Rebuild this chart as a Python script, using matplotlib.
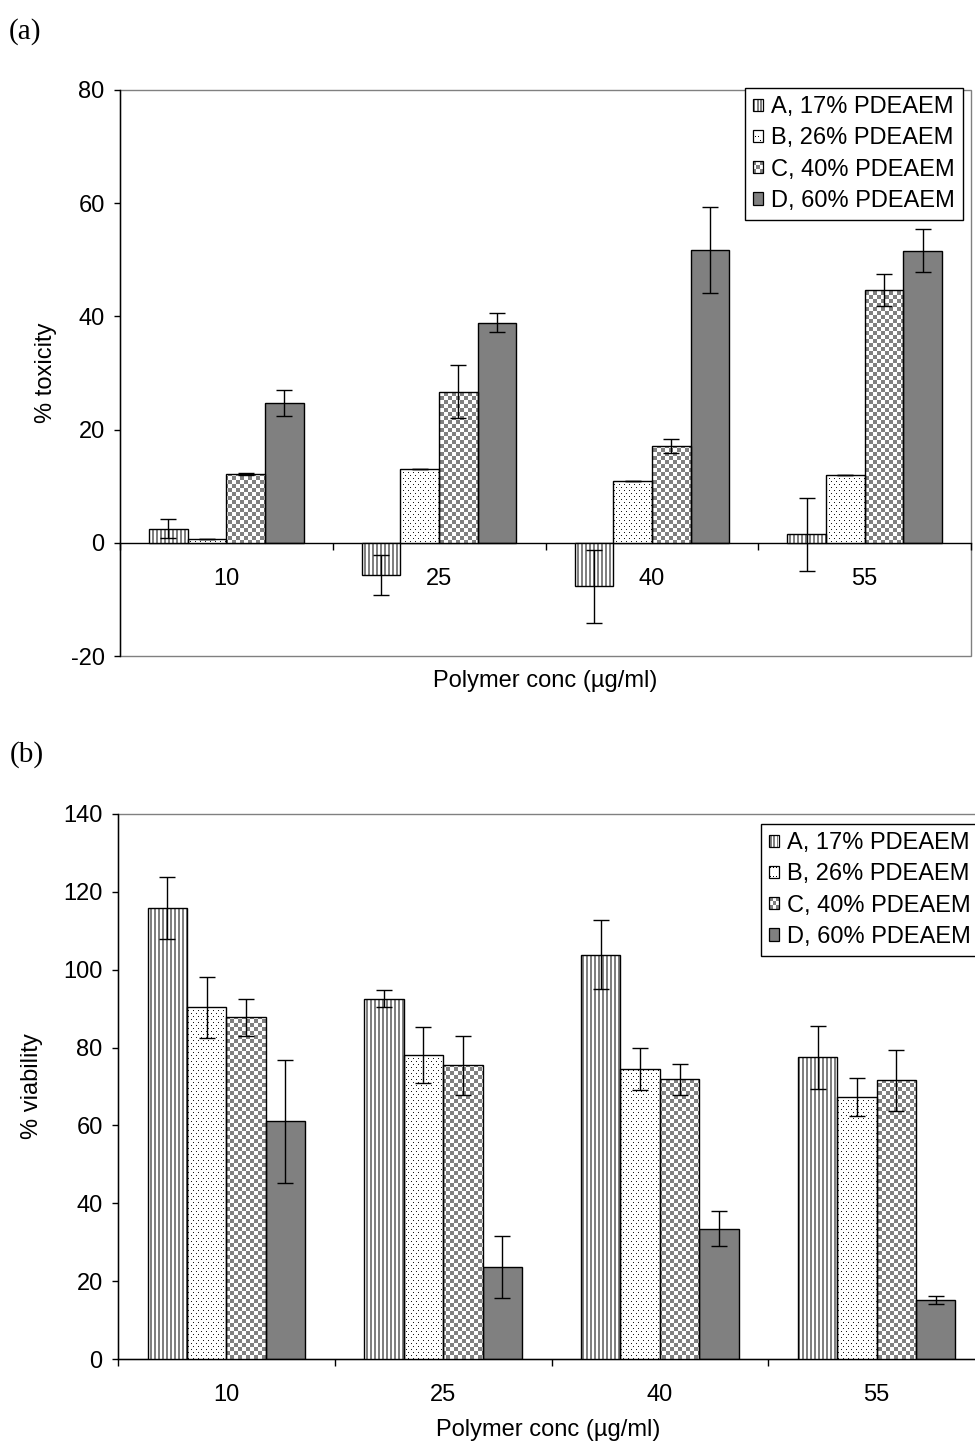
import numpy as np
import matplotlib
matplotlib.use('Agg')
import matplotlib.pyplot as plt
from matplotlib.patches import Rectangle
from matplotlib.path import Path
from matplotlib.colors import to_rgb
from matplotlib.legend_handler import HandlerBase

plt.rcParams['font.family'] = ['Liberation Sans', 'DejaVu Sans']
plt.rcParams['axes.unicode_minus'] = False

categories = ['10', '25', '40', '55']
series = ['A, 17% PDEAEM', 'B, 26% PDEAEM', 'C, 40% PDEAEM', 'D, 60% PDEAEM']

# Panel (a): % toxicity
tox_A = [2.5, -5.7, -7.7, 1.5]
tox_B = [0.6, 13.0, 11.0, 12.0]
tox_C = [12.1, 26.7, 17.1, 44.7]
tox_D = [24.7, 38.9, 51.7, 51.6]
tox_A_err = [1.7, 3.5, 6.5, 6.5]
tox_B_err = [0.0, 0.0, 0.0, 0.0]
tox_C_err = [0.2, 4.7, 1.2, 2.8]
tox_D_err = [2.3, 1.7, 7.6, 3.8]

# Panel (b): % viability
via_A = [115.8, 92.5, 103.9, 77.5]
via_B = [90.3, 78.1, 74.6, 67.3]
via_C = [87.8, 75.4, 71.9, 71.6]
via_D = [61.1, 23.7, 33.5, 15.2]
via_A_err = [8.0, 2.2, 8.9, 8.1]
via_B_err = [7.8, 7.2, 5.4, 5.0]
via_C_err = [4.7, 7.7, 4.0, 7.9]
via_D_err = [15.8, 8.0, 4.5, 1.0]

GREY = '#808080'
FS = 17
W_IN, H_IN, DPI = 9.75, 14.45, 100

fig = plt.figure(figsize=(W_IN, H_IN), dpi=DPI)


def px_axes(left, right, top, bottom):
    W, H = W_IN * DPI, H_IN * DPI
    return fig.add_axes([left / W, 1 - bottom / H, (right - left) / W, (bottom - top) / H])


def add_texture(ax, bars, kind):
    """Pixel-level fill texture clipped to the given bars."""
    pos = ax.get_position()
    nx = int(round(pos.width * W_IN * DPI))
    ny = int(round(pos.height * H_IN * DPI))
    yy, xx = np.mgrid[0:ny, 0:nx]
    if kind == 'stripes':
        mask = (xx % 4) < 2
        col = to_rgb(GREY)
    elif kind == 'dots':
        mask = (((xx % 5) == 0) & ((yy % 6) == 0)) | ((((xx + 2) % 5) == 0) & (((yy + 3) % 6) == 0))
        col = (0.1, 0.1, 0.1)
    else:
        mask = ((xx // 4 + yy // 4) % 2) == 0
        col = to_rgb(GREY)
    rgba = np.ones((ny, nx, 4))
    rgba[mask, :3] = col
    xl, yl = ax.get_xlim(), ax.get_ylim()
    im = ax.imshow(rgba, extent=(xl[0], xl[1], yl[0], yl[1]), origin='lower', aspect='auto',
                   interpolation='nearest', zorder=3)
    paths = [b.get_path().transformed(b.get_patch_transform()) for b in bars]
    im.set_clip_path(Path.make_compound_path(*paths), ax.transData)
    ax.set_xlim(xl)
    ax.set_ylim(yl)


class SwatchHandler(HandlerBase):
    def __init__(self, kind):
        super().__init__()
        self.kind = kind

    def create_artists(self, legend, orig_handle, xdescent, ydescent, width, height, fontsize, trans):
        x0, y0 = -xdescent, -ydescent
        face = GREY if self.kind == 3 else 'white'
        arts = [Rectangle((x0, y0), width, height, facecolor=face, lw=0, transform=trans)]
        if self.kind == 0:
            n = 3
            p = width / n
            for k in range(n):
                arts.append(Rectangle((x0 + k * p + p * 0.25, y0), p * 0.5, height,
                                      facecolor=GREY, lw=0, transform=trans))
        elif self.kind == 1:
            s = width * 0.09
            for i in range(3):
                for j in range(3):
                    arts.append(Rectangle((x0 + (i + 0.5) * width / 3 - s / 2 + (j % 2) * width / 6 - width / 12,
                                           y0 + (j + 0.5) * height / 3 - s / 2), s, s,
                                          facecolor='black', lw=0, transform=trans))
        elif self.kind == 2:
            n = 3
            for i in range(n):
                for j in range(n):
                    if (i + j) % 2 == 0:
                        arts.append(Rectangle((x0 + i * width / n, y0 + j * height / n), width / n, height / n,
                                              facecolor=GREY, lw=0, transform=trans))
        arts.append(Rectangle((x0, y0), width, height, facecolor='none', edgecolor='black', lw=0.9,
                              transform=trans))
        return arts


def draw_panel(ax, vals, errs, ylim, yticks, ylabel, ylab_x, xlab_xy, leg_loc, leg_anchor):
    x = np.arange(len(categories))
    w = 1 / 5.5
    offs = (np.arange(4) - 1.5) * w
    ax.set_xlim(-0.5, len(categories) - 0.5)
    ax.set_ylim(*ylim)

    bA = ax.bar(x + offs[0], vals[0], w, color='white', linewidth=0, zorder=2)
    bB = ax.bar(x + offs[1], vals[1], w, color='white', linewidth=0, zorder=2)
    bC = ax.bar(x + offs[2], vals[2], w, color='white', linewidth=0, zorder=2)
    ax.bar(x + offs[3], vals[3], w, color=GREY, linewidth=0, zorder=2)
    add_texture(ax, bA, 'stripes')
    add_texture(ax, bB, 'dots')
    add_texture(ax, bC, 'checker')
    for i in range(4):
        ax.bar(x + offs[i], vals[i], w, fill=False, edgecolor='black', linewidth=1.0, zorder=4)
        ax.errorbar(x + offs[i], vals[i], yerr=errs[i], fmt='none', ecolor='black', elinewidth=1.0,
                    capsize=6, capthick=1.0, zorder=5)

    # axes styling
    for s in ['top', 'right']:
        ax.spines[s].set_visible(False)
    ax.spines['left'].set_color('black')
    ax.spines['left'].set_linewidth(1.0)
    ax.spines['bottom'].set_position(('data', 0))
    ax.spines['bottom'].set_color('black')
    ax.spines['bottom'].set_linewidth(1.0)
    ax.add_patch(Rectangle((0, 0), 1, 1, transform=ax.transAxes, fill=False, edgecolor=GREY,
                           linewidth=1.0, zorder=0.5, clip_on=False))

    ax.set_yticks(yticks)
    ax.tick_params(axis='y', direction='out', length=4, width=1.0, pad=7, labelsize=FS)
    ax.set_xticks(x)
    ax.set_xticklabels(categories)
    ax.set_xticks(np.arange(len(categories) + 1) - 0.5, minor=True)
    ax.tick_params(axis='x', which='major', length=0, pad=18, labelsize=FS)
    ax.tick_params(axis='x', which='minor', direction='out', length=5, width=1.0)

    ax.set_ylabel(ylabel, fontsize=FS)
    ax.yaxis.set_label_coords(ylab_x, 0.5)
    ax.set_xlabel('Polymer conc (µg/ml)', fontsize=FS, va='center')
    ax.xaxis.set_label_coords(*xlab_xy)

    handles = [Rectangle((0, 0), 1, 1) for _ in series]
    hmap = {h: SwatchHandler(k) for k, h in enumerate(handles)}
    leg = ax.legend(handles, series, handler_map=hmap, loc=leg_loc, bbox_to_anchor=leg_anchor,
                    fontsize=FS, frameon=True, fancybox=False, shadow=False, framealpha=1,
                    edgecolor='black', borderpad=0.35, labelspacing=0.39, handlelength=0.42,
                    handleheight=0.42, handletextpad=0.34, borderaxespad=0)
    leg.get_frame().set_linewidth(1.0)
    leg.set_zorder(10)


# Panel (a)
axA = px_axes(120, 971, 90, 656)
draw_panel(axA, [tox_A, tox_B, tox_C, tox_D], [tox_A_err, tox_B_err, tox_C_err, tox_D_err],
           (-20, 80), np.arange(-20, 81, 20), '% toxicity', -0.074, (0.5, -0.044),
           'upper right', (0.9906, 1.0035))

# Panel (b)
axB = px_axes(118, 985, 814, 1359)
draw_panel(axB, [via_A, via_B, via_C, via_D], [via_A_err, via_B_err, via_C_err, via_D_err],
           (0, 140), np.arange(0, 141, 20), '% viability', -0.0865, (0.496, -0.130),
           'upper left', (0.7416, 0.9817))

fig.text(9 / 975, 1 - 32 / 1445, '(a)', family=['Liberation Serif', 'DejaVu Serif'], fontsize=21,
         ha='left', va='center')
fig.text(10 / 975, 1 - 755 / 1445, '(b)', family=['Liberation Serif', 'DejaVu Serif'], fontsize=21,
         ha='left', va='center')

fig.savefig('out.png', dpi=DPI)
